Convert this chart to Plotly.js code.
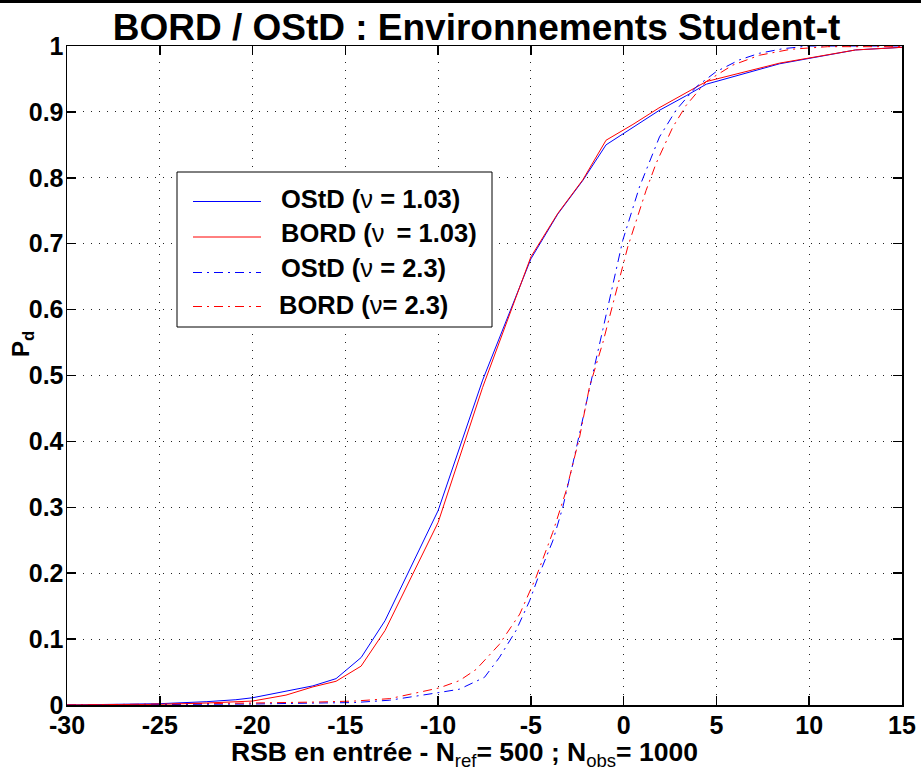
<!DOCTYPE html>
<html>
<head>
<meta charset="utf-8">
<script src="https://cdn.plot.ly/plotly-3.0.1.min.js"></script>
<style>
  html, body { margin: 0; padding: 0; background: #fff; }
  #chart { width: 921px; height: 779px; }
</style>
</head>
<body>
<div id="chart"></div>
<script>
// Detection probability P_d versus input SNR (RSB, dB)
// Solid curves: Student-t environment with nu = 1.03
var rsbNu103 = [-30, -27.5, -25, -22.5, -20.9, -20, -18.2, -16.75, -15.5, -14.15, -12.86, -10, -7.6, -5, -3.55, -2.2, -0.95, 0.5, 1.9, 3.4, 4.45, 8.4, 12.5, 15];
var pdOStD103 = [0, 0.001, 0.002, 0.005, 0.008, 0.011, 0.021, 0.029, 0.040, 0.072, 0.128, 0.295, 0.493, 0.677, 0.745, 0.796, 0.850, 0.877, 0.902, 0.925, 0.942, 0.973, 0.994, 0.998];
var pdBORD103 = [0, 0.0005, 0.001, 0.003, 0.005, 0.006, 0.015, 0.0275, 0.036, 0.059, 0.113, 0.277, 0.482, 0.680, 0.746, 0.797, 0.857, 0.881, 0.906, 0.930, 0.946, 0.974, 0.994, 0.998];

// Dash-dot curves: Student-t environment with nu = 2.3
var rsbOStD23 = [-30, -25, -20, -16.5, -14.5, -12.6, -11.2, -9.93, -8.85, -7.5, -6.7, -5.8, -5.07, -4.54, -3.82, -3.28, -2.74, -2.2, -1.66, -1.12, -0.05, 0.85, 1.93, 2.83, 3.91, 4.98, 6.24, 7.32, 8.6, 10, 15];
var pdOStD23 = [0, 0.0005, 0.0015, 0.003, 0.0037, 0.0073, 0.014, 0.019, 0.024, 0.042, 0.072, 0.113, 0.158, 0.199, 0.249, 0.30, 0.366, 0.432, 0.503, 0.57, 0.705, 0.786, 0.862, 0.903, 0.938, 0.961, 0.979, 0.989, 0.996, 1.0, 1.0];
var rsbBORD23 = [-30, -25, -20, -16.5, -14.5, -12.6, -9.93, -8.85, -7.95, -6.7, -5.6, -4.72, -3.82, -3.1, -2.38, -1.84, -1.12, 0.22, 1.21, 1.75, 2.65, 3.37, 4.45, 5.88, 7.32, 9, 11, 15];
var pdBORD23 = [0, 0.001, 0.003, 0.0045, 0.006, 0.0097, 0.026, 0.037, 0.054, 0.092, 0.138, 0.194, 0.262, 0.325, 0.406, 0.483, 0.55, 0.695, 0.781, 0.822, 0.877, 0.910, 0.946, 0.971, 0.986, 0.995, 0.999, 0.999];

var NU = '<span style="font-weight:normal">\u03bd</span>';
var seriesNames = ['OStD (' + NU + ' = 1.03)', 'BORD (' + NU + '\u2009 = 1.03)', 'OStD (' + NU + ' = 2.3)', 'BORD (' + NU + '= 2.3)'];
var xTicks = [-30, -25, -20, -15, -10, -5, 0, 5, 10, 15];
var yTicks = [0, 0.1, 0.2, 0.3, 0.4, 0.5, 0.6, 0.7, 0.8, 0.9, 1];
var yTickText = ['0', '0.1', '0.2', '0.3', '0.4', '0.5', '0.6', '0.7', '0.8', '0.9', '1'];

var BLUE = '#0000ff', RED = '#ff0000';
var DASHDOT = '9px,5px,2px,5px';
var FONT = 'Liberation Sans, Arial, Helvetica, sans-serif';

var traces = [
  {x: rsbNu103, y: pdOStD103, name: seriesNames[0], mode: 'lines', line: {color: BLUE, width: 1}},
  {x: rsbNu103, y: pdBORD103, name: seriesNames[1], mode: 'lines', line: {color: RED, width: 1}},
  {x: rsbOStD23, y: pdOStD23, name: seriesNames[2], mode: 'lines', line: {color: BLUE, width: 1, dash: DASHDOT}},
  {x: rsbBORD23, y: pdBORD23, name: seriesNames[3], mode: 'lines', line: {color: RED, width: 1, dash: DASHDOT}}
];

// plot area in pixels (for placing the framed legend in paper units)
var L = 67, R = 19, T = 46, B = 74, W = 921, H = 779;
var pw = W - L - R, ph = H - T - B;
function px(v) { return (v - L) / pw; }
function py(v) { return (H - B - v) / ph; }

var legendRows = [201.5, 237, 272.5, 306.5];
var legendTextRows = [199, 233, 268, 305];
var legendTextX = [279, 279, 279, 277];
var legendStyles = [
  {color: BLUE, dash: 'solid'}, {color: RED, dash: 'solid'},
  {color: BLUE, dash: DASHDOT}, {color: RED, dash: DASHDOT}
];

var shapes = [
  // heavy rule across the top of the figure
  {type: 'rect', xref: 'paper', yref: 'paper', x0: px(0), x1: px(W), y0: py(3), y1: py(0),
   fillcolor: '#000', line: {width: 0}},
  // legend frame
  {type: 'rect', xref: 'paper', yref: 'paper', x0: px(177), x1: px(492), y0: py(327), y1: py(172),
   fillcolor: '#fff', line: {color: '#000', width: 1}}
];
var annotations = [];
for (var i = 0; i < seriesNames.length; i++) {
  shapes.push({type: 'line', xref: 'paper', yref: 'paper', x0: px(193), x1: px(261),
    y0: py(legendRows[i]), y1: py(legendRows[i]),
    line: {color: legendStyles[i].color, width: 1, dash: legendStyles[i].dash}});
  annotations.push({xref: 'paper', yref: 'paper', x: px(legendTextX[i]), y: py(legendTextRows[i]),
    xanchor: 'left', yanchor: 'middle', showarrow: false, text: seriesNames[i],
    font: {family: FONT, size: 25.5, color: '#000', weight: 'bold'}});
}
// axis labels
var subStyle = 'font-weight:normal';
annotations.push({xref: 'paper', yref: 'paper', x: px(464), y: py(754), xanchor: 'center', yanchor: 'middle',
  showarrow: false,
  text: 'RSB en entrée - N<sub><span style="' + subStyle + '">ref</span></sub>= 500 ; N<sub><span style="' + subStyle + '">obs</span></sub>= 1000',
  font: {family: FONT, size: 26.5, color: '#000', weight: 'bold'}});
annotations.push({xref: 'paper', yref: 'paper', x: px(22), y: py(344), xanchor: 'center', yanchor: 'middle',
  showarrow: false, textangle: -90, text: 'P<sub>d</sub>',
  font: {family: FONT, size: 24, color: '#000', weight: 'bold'}});

var axisCommon = {
  showline: true, linecolor: '#000', linewidth: 1.5, mirror: 'ticks',
  ticks: 'inside', ticklen: 9, tickwidth: 1.5, tickcolor: '#000',
  showgrid: true, gridcolor: '#222', gridwidth: 1, griddash: '1px,7px',
  zeroline: false, automargin: false,
  tickfont: {family: FONT, size: 25, color: '#000', weight: 'bold'}
};

var layout = {
  width: W, height: H,
  margin: {l: L, r: R, t: T, b: B, pad: 0},
  paper_bgcolor: '#fff', plot_bgcolor: '#fff',
  showlegend: false,
  title: {text: 'BORD / OStD : Environnements Student-t', xref: 'container', yref: 'container',
    x: 476.5 / W, xanchor: 'center', y: 1 - 14 / H, yanchor: 'top',
    font: {family: FONT, size: 37, color: '#000', weight: 'bold'}},
  xaxis: Object.assign({}, axisCommon, {range: [-30, 15], tickvals: xTicks, ticktext: xTicks.map(String), ticklabelstandoff: -3}),
  yaxis: Object.assign({}, axisCommon, {range: [0, 1], tickvals: yTicks, ticktext: yTickText, ticklabelstandoff: -3}),
  shapes: shapes,
  annotations: annotations
};

Plotly.newPlot('chart', traces, layout, {staticPlot: true, displayModeBar: false});
</script>
</body>
</html>
